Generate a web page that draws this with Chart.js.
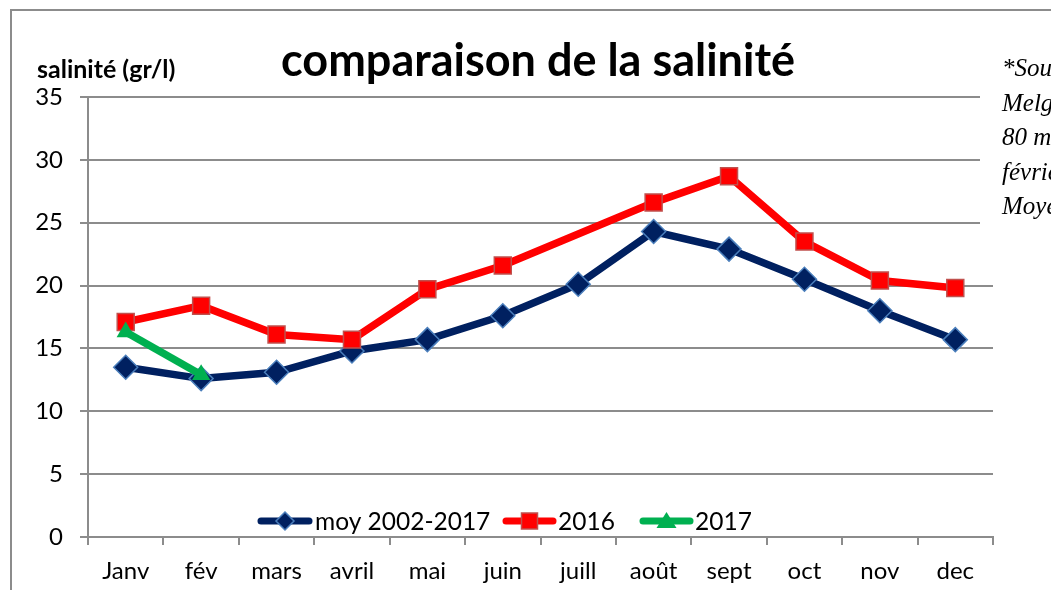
<!DOCTYPE html>
<html>
<head>
<meta charset="utf-8">
<script src="https://cdn.jsdelivr.net/npm/chart.js@4"></script>
<style>
html,body{margin:0;padding:0;background:#fff;}
#wrap{width:1051px;height:590px;position:relative;}
</style>
</head>
<body>
<div id="wrap"><canvas id="c" width="1051" height="590"></canvas></div>
<script>
const categories = ['Janv','fév','mars','avril','mai','juin','juill','août','sept','oct','nov','dec'];
const moy = [13.5, 12.6, 13.1, 14.8, 15.7, 17.6, 20.1, 24.3, 22.9, 20.5, 18.0, 15.7];
const s2016 = [17.1, 18.4, 16.1, 15.7, 19.7, 21.6, null, 26.6, 28.7, 23.5, 20.4, 19.8];
const s2017 = [16.3, 12.9, null, null, null, null, null, null, null, null, null, null];
const seriesNames = ['moy 2002-2017', '2016', '2017'];
const titleText = 'comparaison de la salinité';
const yAxisTitle = 'salinité (gr/l)';
const noteLines = ['*Source :', 'Melghir', '80 m', 'février', 'Moyenne'];

const FONT = 'Lato, "Open Sans", sans-serif';

const decor = {
  id: 'decor',
  beforeDraw(chart) {
    const ctx = chart.ctx;
    ctx.save();
    ctx.fillStyle = '#fff';
    ctx.fillRect(0, 0, chart.width, chart.height);
    ctx.strokeStyle = '#8c8c8c';
    ctx.lineWidth = 2;
    ctx.beginPath();
    ctx.moveTo(11, 590);
    ctx.lineTo(11, 10);
    ctx.lineTo(1051, 10);
    ctx.stroke();
    ctx.restore();
  },
  afterDraw(chart) {
    const ctx = chart.ctx;
    ctx.save();
    // white text box on the right
    ctx.fillStyle = '#fff';
    ctx.fillRect(980, 30, 80, 240);
    ctx.fillStyle = '#000';
    ctx.font = 'italic 25px "Liberation Serif", serif';
    ctx.textAlign = 'left';
    ctx.textBaseline = 'alphabetic';
    noteLines.forEach((t, i) => ctx.fillText(t, 1002, 76 + i * 34.5));

    // title
    ctx.font = 'bold 45px ' + FONT;
    ctx.textAlign = 'center';
    ctx.textBaseline = 'middle';
    ctx.fillText(titleText, 538, 61);

    // y-axis title
    ctx.font = 'bold 25px ' + FONT;
    ctx.textAlign = 'left';
    ctx.fillText(yAxisTitle, 37, 70);

    // legend
    const items = [
      {ds: 0, x0: 258, x1: 312, tx: 315},
      {ds: 1, x0: 503, x1: 556, tx: 558},
      {ds: 2, x0: 640, x1: 693, tx: 695}
    ];
    const ly = 521;
    items.forEach(it => {
      const d = chart.data.datasets[it.ds];
      ctx.strokeStyle = d.borderColor;
      ctx.lineWidth = 7;
      ctx.lineCap = 'round';
      ctx.beginPath();
      ctx.moveTo(it.x0 + 3, ly);
      ctx.lineTo(it.x1 - 3, ly);
      ctx.stroke();
      const cx = (it.x0 + it.x1) / 2;
      ctx.fillStyle = d.pointBackgroundColor;
      ctx.strokeStyle = d.pointBorderColor;
      ctx.lineWidth = d.pointBorderWidth;
      ctx.lineCap = 'butt';
      ctx.beginPath();
      if (d.pointStyle === 'rectRot') {
        const r = 9;
        ctx.moveTo(cx, ly - r); ctx.lineTo(cx + r, ly); ctx.lineTo(cx, ly + r); ctx.lineTo(cx - r, ly); ctx.closePath();
      } else if (d.pointStyle === 'rect') {
        ctx.rect(cx - 8, ly - 8, 16, 16);
      } else {
        ctx.moveTo(cx, ly - 9); ctx.lineTo(cx + 10, ly + 7); ctx.lineTo(cx - 10, ly + 7); ctx.closePath();
      }
      ctx.fill();
      if (d.pointBorderWidth > 0) ctx.stroke();
      ctx.fillStyle = '#000';
      ctx.font = '24.5px ' + FONT;
      ctx.textAlign = 'left';
      ctx.textBaseline = 'middle';
      ctx.fillText(seriesNames[it.ds], it.tx, ly + 1);
    });
    ctx.restore();
  }
};

new Chart(document.getElementById('c'), {
  type: 'line',
  data: {
    labels: categories,
    datasets: [
      {
        label: seriesNames[0], data: moy,
        borderColor: '#002060', borderWidth: 7.5,
        pointStyle: 'rectRot', pointRadius: 12, pointHoverRadius: 12,
        pointBackgroundColor: '#002060', pointBorderColor: '#4a7ebb', pointBorderWidth: 1.5,
        tension: 0, order: 3
      },
      {
        label: seriesNames[1], data: s2016, spanGaps: true,
        borderColor: '#ff0000', borderWidth: 7.5,
        pointStyle: 'rect', pointRadius: 12, pointHoverRadius: 12,
        pointBackgroundColor: '#ff0000', pointBorderColor: '#c0504d', pointBorderWidth: 1.5,
        tension: 0, order: 2
      },
      {
        label: seriesNames[2], data: s2017,
        borderColor: '#00b050', borderWidth: 7.5,
        pointStyle: 'triangle', pointRadius: 10.5, pointHoverRadius: 10.5,
        pointBackgroundColor: '#00b050', pointBorderColor: '#00b050', pointBorderWidth: 0,
        tension: 0, order: 1
      }
    ]
  },
  options: {
    responsive: false,
    animation: false,
    events: [],
    layout: { padding: { left: 0, top: 97, right: 58, bottom: 0 } },
    plugins: { legend: { display: false }, title: { display: false }, tooltip: { enabled: false } },
    scales: {
      x: {
        offset: true,
        grid: { display: true, drawOnChartArea: false, drawTicks: true, tickLength: 8, color: '#8c8c8c', lineWidth: 2, offset: true },
        border: { display: true, color: '#8c8c8c', width: 2 },
        ticks: { color: '#000', font: { family: FONT, size: 24 }, padding: 12, maxRotation: 0, autoSkip: false },
        afterFit(s) { s.height = 53; }
      },
      y: {
        min: 0, max: 35,
        grid: { color: '#8c8c8c', lineWidth: 2, drawTicks: true, tickLength: 8 },
        border: { display: true, color: '#8c8c8c', width: 2 },
        ticks: { stepSize: 5, color: '#000', font: { family: FONT, size: 24 }, padding: 17 },
        afterFit(s) { s.width = 88; }
      }
    }
  },
  plugins: [decor]
});
</script>
</body>
</html>
